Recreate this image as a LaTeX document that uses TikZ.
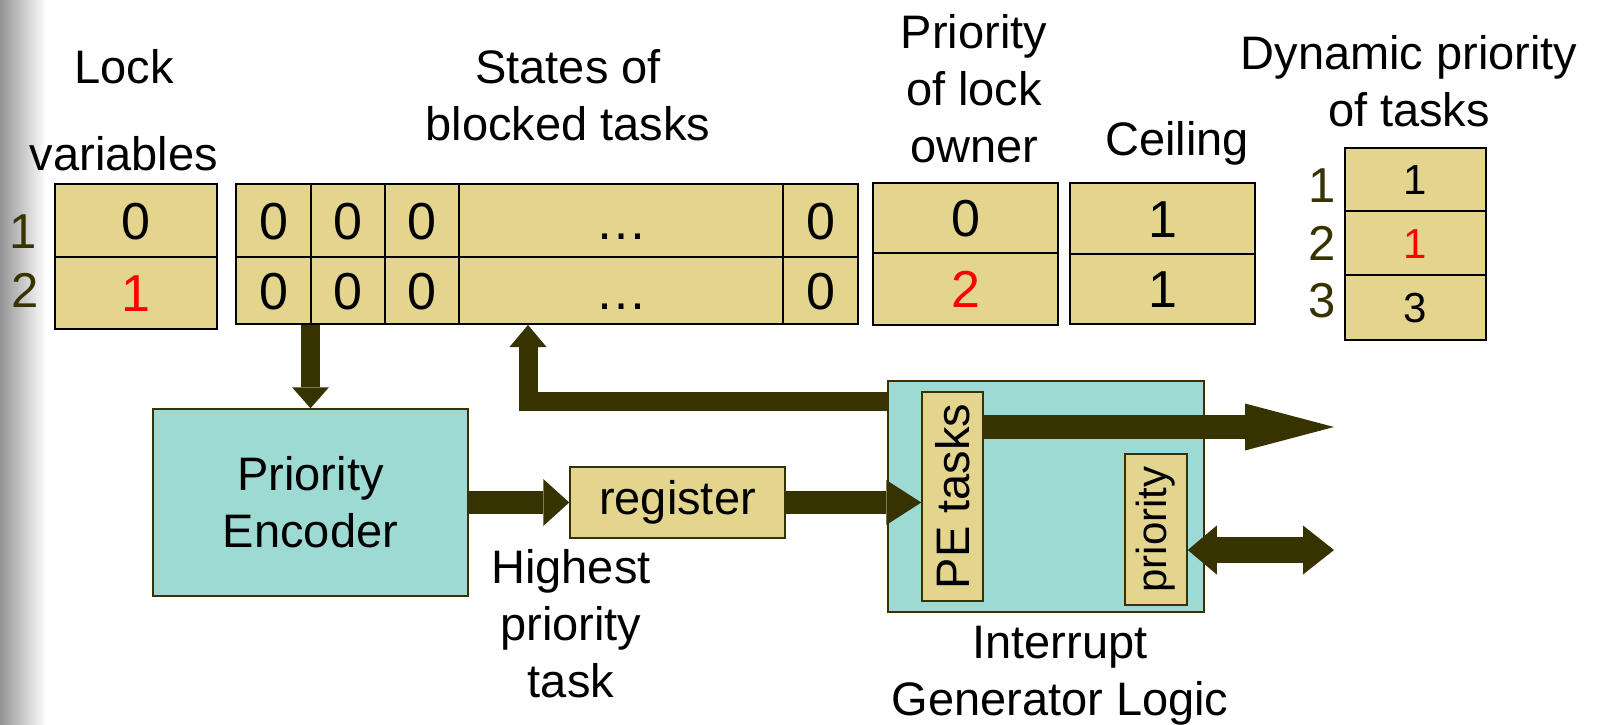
\documentclass[tikz,border=0pt]{standalone}
\usepackage{fontspec}
\setmainfont{Liberation Sans}
\usetikzlibrary{arrows.meta}
\definecolor{celltan}{RGB}{228,213,142}
\definecolor{blockteal}{RGB}{158,218,212}
\definecolor{darkolive}{RGB}{54,51,0}
\tikzset{
	cell/.style={draw=black,line width=2pt,fill=celltan,inner sep=0pt,
			text height=37pt,text depth=0pt,font=\fontsize{52}{57}\selectfont},
	smallcell/.style={cell,text height=30pt,font=\fontsize{42}{50}\selectfont},
	rowlbl/.style={text=darkolive,inner sep=0pt,anchor=base,font=\fontsize{49}{57}\selectfont},
	lbl/.style={inner sep=0pt,align=center,anchor=base,font=\fontsize{47}{57}\selectfont},
	block/.style={draw=darkolive,line width=1.5pt,fill=blockteal,inner sep=0pt,
			align=center,font=\fontsize{47}{57}\selectfont},
	inblock/.style={block,fill=celltan},
	bus/.style={draw=darkolive,line width=#1},
	head/.style 2 args={-{Triangle[width=#1,length=#2,line width=0pt]}}
}

\begin{document}
\begin{tikzpicture}[x=1pt,y=-1pt]
	\useasboundingbox (0,0) rectangle (1606,725);
	\shade[left color=black!42,right color=white] (0,0) rectangle (46,725);

	% lock variables
	\node[lbl] (locklbl) at (124,170) {Lock\\[30pt]variables};
	\node[rowlbl] (lockno1) at (23,248) {1};
	\node[rowlbl] (lockno2) at (25,307) {2};
	\node[cell,minimum width=162pt,minimum height=73pt] (lock1) at (136,220.5) {0};
	\node[cell,minimum width=162pt,minimum height=72pt,text=red] (lock2) at (136,293) {1};

	% states of blocked tasks
	\node[lbl] (stlbl) at (568,140) {States of\\blocked tasks};
	\node[cell,minimum width=75pt,minimum height=73pt] (sa1) at (273.5,220.5) {0};
	\node[cell,minimum width=74pt,minimum height=73pt] (sb1) at (348,220.5) {0};
	\node[cell,minimum width=74pt,minimum height=73pt] (sc1) at (422,220.5) {0};
	\node[cell,minimum width=324pt,minimum height=73pt] (sd1) at (621,220.5) {…};
	\node[cell,minimum width=75pt,minimum height=73pt] (se1) at (820.5,220.5) {0};
	\node[cell,minimum width=75pt,minimum height=67pt] (sa2) at (273.5,290.5) {0};
	\node[cell,minimum width=74pt,minimum height=67pt] (sb2) at (348,290.5) {0};
	\node[cell,minimum width=74pt,minimum height=67pt] (sc2) at (422,290.5) {0};
	\node[cell,minimum width=324pt,minimum height=67pt] (sd2) at (621,290.5) {…};
	\node[cell,minimum width=75pt,minimum height=67pt] (se2) at (820.5,290.5) {0};

	% owner priority and ceiling
	\node[lbl] (ownlbl) at (974,162) {Priority\\of lock\\owner};
	\node[cell,minimum width=185pt,minimum height=70pt] (own1) at (965.5,218) {0};
	\node[cell,minimum width=185pt,minimum height=72pt,text=red] (own2) at (965.5,289) {2};
	\node[lbl] (ceillbl) at (1177,155) {Ceiling};
	\node[cell,minimum width=185pt,minimum height=71pt] (ceil1) at (1162.5,218.5) {1};
	\node[cell,minimum width=185pt,minimum height=70pt] (ceil2) at (1162.5,289) {1};

	% dynamic priorities
	\node[lbl] (dynlbl) at (1409,126) {Dynamic priority\\of tasks};
	\node[rowlbl] (dynno1) at (1322,202) {1};
	\node[rowlbl] (dynno2) at (1322,260) {2};
	\node[rowlbl] (dynno3) at (1322,317) {3};
	\node[smallcell,minimum width=141pt,minimum height=63pt] (dyn1) at (1415.5,179.5) {1};
	\node[smallcell,minimum width=141pt,minimum height=64pt,text=red] (dyn2) at (1415.5,243) {1};
	\node[smallcell,minimum width=141pt,minimum height=65pt] (dyn3) at (1415.5,307.5) {3};

	% logic
	\node[block,minimum width=315pt,minimum height=187pt] (pe) at (310.5,502.5) {Priority\\Encoder};
	\node[inblock,minimum width=215pt,minimum height=71pt] (reg) at (677.5,502.5) {register};
	\node[lbl] (hptlbl) at (571,697) {Highest\\priority\\task};
	\node[block,minimum width=316pt,minimum height=231pt] (igl) at (1046,496.5) {};
	\node[inblock,rotate=90,minimum width=209pt,minimum height=61pt] (petasks) at (952.5,496.5) {PE tasks};
	\node[inblock,rotate=90,minimum width=151pt,minimum height=62pt,font=\fontsize{42}{50}\selectfont] (prio) at (1156,529.5) {priority};
	\node[lbl] (igllbl) at (1060,715) {Interrupt\\Generator Logic};

	\coordinate (fbk) at (528,401.5);
	\coordinate (outA) at (1334,427);
	\coordinate (outB) at (1334,550);

	% buses
	\draw[bus=19pt,head={37pt}{21pt}] (pe.north |- sa2.south) -- (pe.north);
	\draw[bus=19pt,head={37pt}{22pt}] (igl.west |- fbk) -| (fbk |- sd2.south);
	\draw[bus=23pt,head={47pt}{26pt}] (pe.east) -- (reg.west);
	\draw[bus=23pt,head={45pt}{35pt}] (reg.east) -- (reg.east -| petasks.north);
	\draw[bus=24pt,head={47pt}{89pt}] (petasks.south |- outA) -- (outA);
	\draw[bus=26pt,{Triangle[width=49pt,length=29pt,line width=0pt]}-{Triangle[width=49pt,length=31pt,line width=0pt]}] (prio.south |- outB) -- (outB);
\end{tikzpicture}
\end{document}
